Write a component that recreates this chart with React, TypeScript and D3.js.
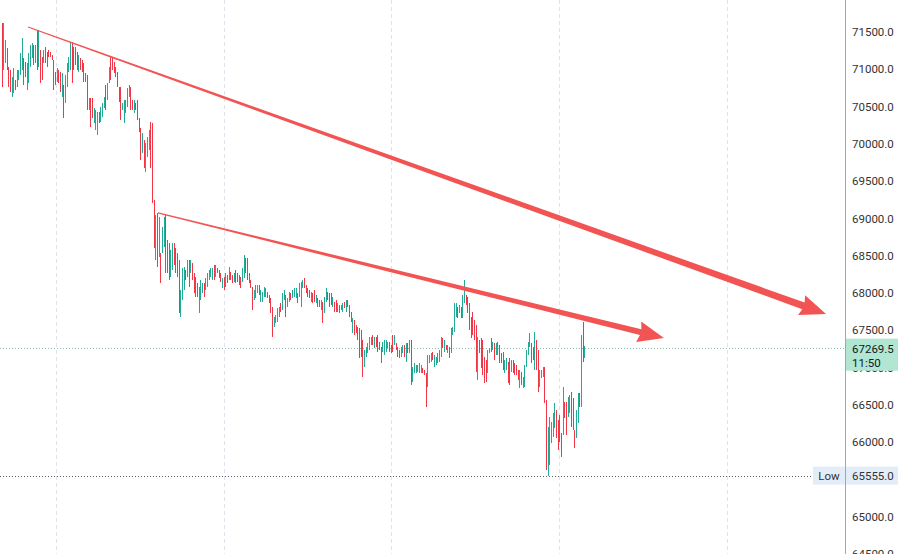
import React from 'react';
import * as d3 from 'd3';

const W = 898;
const H = 554;

// price axis ticks
const priceTicks = [64500, 65000, 65500, 66000, 66500, 67000, 67500, 68000, 68500, 69000, 69500, 70000, 70500, 71000, 71500];
// vertical grid (time) positions, in bar-index units
const timeGrid = [32.5, 133, 233.5, 334, 434.5];

const lastPrice = 67269.5;
const countdown = '11:50';
const lowPrice = 65555;

// 15m candles: [open, high, low, close]
const candles: number[][] = [
  [71620,71620,70765,70765],[70990,71620,70990,71620],[71085,71395,71085,71395],[71285,71285,70990,70990],
  [71030,71030,70765,70765],[70990,70990,70695,70695],[70630,70900,70630,70900],[70685,71020,70685,71020],
  [70855,70855,70725,70725],[70765,70990,70765,70990],[70855,70990,70855,70990],[70925,71220,70925,71220],
  [70990,71420,70990,71420],[71150,71150,70790,70790],[71100,71100,70900,70900],[70725,71085,70725,71085],
  [70815,71220,70815,71220],[71030,71325,71030,71325],[71150,71355,71150,71355],[71325,71325,71060,71060],
  [71085,71325,71085,71325],[71525,71525,70990,70990],[71030,71525,71030,71525],[71260,71260,70815,70815],
  [71165,71165,70855,70855],[71085,71260,71085,71260],[71300,71300,71085,71085],[71230,71230,71030,71030],
  [71260,71260,71165,71165],[71230,71230,71165,71165],[71190,71190,71125,71125],[71125,71125,70725,70725],
  [70965,70965,70790,70790],[70830,71020,70830,71020],[70990,70990,70815,70815],[70965,70965,70695,70695],
  [70630,70950,70630,70950],[70790,70790,70350,70350],[70550,70925,70550,70925],[70765,71085,70765,71085],
  [70965,71165,70965,71165],[70990,71365,70990,71365],[71365,71365,70815,70815],[71300,71300,70990,70990],
  [71300,71300,71060,71060],[71230,71230,70990,70990],[70965,71190,70965,71190],[71150,71150,70990,70990],
  [71125,71125,70965,70965],[71085,71085,70830,70830],[70950,70950,70830,70830],[70925,70925,70455,70455],
  [70455,70615,70455,70615],[70615,70615,70225,70225],[70615,70615,70350,70350],[70280,70480,70280,70480],
  [70190,70455,70190,70455],[70120,70430,70120,70430],[70430,70430,70280,70280],[70295,70495,70295,70495],
  [70360,70550,70360,70550],[70480,70630,70480,70630],[70790,70790,70455,70455],[70590,70815,70590,70815],
  [70815,71030,70815,71030],[71165,71165,70855,70855],[71150,71150,70990,70990],[71100,71100,70950,70950],
  [71030,71030,70900,70900],[70965,70965,70765,70765],[70765,70765,70560,70560],[70765,70765,70320,70320],
  [70455,70550,70455,70550],[70280,70590,70280,70590],[70415,70590,70415,70590],[70495,70750,70495,70750],
  [70630,70790,70630,70790],[70765,70765,70455,70455],[70590,70590,70455,70455],[70415,70590,70415,70590],
  [70550,70550,70455,70455],[70590,70590,70320,70320],[70350,70350,70160,70160],[70215,70215,69785,69785],
  [69880,70145,69880,70145],[70055,70055,69680,69680],[69625,70010,69625,70010],[69825,70095,69825,70095],
  [69920,70190,69920,70190],[70295,70295,69680,69680],[70280,70280,69210,69210],[69250,69250,68605,68605],
  [68445,69050,68445,69050],[69075,69075,68350,68350],[68485,69020,68485,69020],[68540,68540,68135,68135],
  [68540,68890,68540,68890],[68620,69020,68620,69020],[69050,69050,68270,68270],[68715,68715,68270,68270],
  [68675,68675,68175,68175],[68215,68580,68215,68580],[68310,68675,68310,68675],[68675,68675,68380,68380],
  [68605,68605,68270,68270],[68540,68540,68215,68215],[68445,68445,67735,67735],[67680,68045,67680,68045],
  [67910,68340,67910,68340],[68045,68350,68045,68350],[68310,68310,68175,68175],[68215,68445,68215,68445],
  [68445,68445,68085,68085],[68270,68445,68270,68445],[68405,68405,68175,68175],[68270,68270,68000,68000],
  [68215,68215,67950,67950],[68135,68135,67950,67950],[67735,68085,67735,68085],[67910,68175,67910,68175],
  [68000,68135,68000,68135],[68135,68135,67950,67950],[68045,68205,68045,68205],[68085,68270,68085,68270],
  [68175,68310,68175,68310],[68215,68340,68215,68340],[68175,68340,68175,68340],[68380,68380,68175,68175],
  [68215,68380,68215,68380],[68340,68340,68270,68270],[68310,68310,68205,68205],[68270,68270,68150,68150],
  [68070,68205,68070,68205],[68215,68215,68045,68045],[68085,68270,68085,68270],[68245,68245,68135,68135],
  [68175,68350,68175,68350],[68285,68285,68175,68175],[68245,68245,68135,68135],[68150,68270,68150,68270],
  [68310,68310,68135,68135],[68270,68270,68150,68150],[68245,68245,68110,68110],[68215,68215,68070,68070],
  [68150,68340,68150,68340],[68205,68510,68205,68510],[68470,68470,68270,68270],[68470,68470,68175,68175],
  [68270,68270,68135,68135],[68175,68175,68070,68070],[68085,68085,67775,67775],[67910,68045,67910,68045],
  [67935,68110,67935,68110],[68000,68110,68000,68110],[68110,68110,67975,67975],[67880,68045,67880,68045],
  [67880,68015,67880,68015],[67950,68085,67950,68085],[67950,68070,67950,68070],[68015,68015,67935,67935],
  [67975,67975,67870,67870],[67935,67935,67735,67735],[67815,67815,67415,67415],[67545,67680,67545,67680],
  [67600,67710,67600,67710],[67615,67800,67615,67800],[67680,67815,67680,67815],[67870,67870,67750,67750],
  [67775,68000,67775,68000],[67910,68045,67910,68045],[67975,67975,67680,67680],[67815,67935,67815,67935],
  [67880,68015,67880,68015],[68000,68000,67910,67910],[67935,68045,67935,68045],[67950,68070,67950,68070],
  [67935,68070,67935,68070],[68000,68000,67870,67870],[67950,68135,67950,68135],[67815,68150,67815,68150],
  [68070,68175,68070,68175],[68205,68205,68070,68070],[68110,68110,68000,68000],[68070,68070,67950,67950],
  [68045,68045,67935,67935],[67880,68015,67880,68015],[68000,68000,67870,67870],[68045,68045,67880,67880],
  [67870,67975,67870,67975],[67935,67935,67815,67815],[67910,67910,67815,67815],[67775,67910,67775,67910],
  [67880,67880,67600,67600],[67735,67950,67735,67950],[67880,68070,67880,68070],[68015,68015,67910,67910],
  [68000,68000,67815,67815],[68000,68000,67840,67840],[67815,67950,67815,67950],[67880,67880,67750,67750],
  [67910,67910,67750,67750],[67750,67870,67750,67870],[67840,67840,67735,67735],[67775,67840,67775,67840],
  [67750,67870,67750,67870],[67880,67880,67800,67800],[67750,67910,67750,67910],[67910,67910,67815,67815],
  [67840,67840,67680,67680],[67750,67750,67615,67615],[67465,67670,67465,67670],[67640,67640,67440,67440],
  [67575,67575,67465,67465],[67545,67545,67375,67375],[67535,67535,67130,67130],[67505,67505,67145,67145],
  [67375,67375,66875,66875],[67010,67240,67010,67240],[67145,67280,67145,67280],[67200,67330,67200,67330],
  [67240,67415,67240,67415],[67305,67415,67305,67415],[67440,67440,67305,67305],[67265,67415,67265,67415],
  [67415,67415,67280,67280],[67440,67440,67210,67210],[67345,67345,67240,67240],[67280,67280,67065,67065],
  [67210,67345,67210,67345],[67170,67375,67170,67375],[67210,67375,67210,67375],[67265,67345,67265,67345],
  [67345,67345,67210,67210],[67305,67305,67200,67200],[67440,67440,67210,67210],[67305,67440,67305,67440],
  [67330,67330,67240,67240],[67280,67280,67145,67145],[67240,67240,67130,67130],[67145,67280,67145,67280],
  [67200,67305,67200,67305],[67305,67305,67145,67145],[67080,67330,67080,67330],[67330,67330,67200,67200],
  [67200,67375,67200,67375],[67375,67375,66770,66770],[66810,67010,66810,67010],[66930,67065,66930,67065],
  [66930,67040,66930,67040],[66945,67040,66945,67040],[66930,67065,66930,67065],[66930,67040,66930,67040],
  [67000,67000,66930,66930],[66970,66970,66905,66905],[66930,66930,66475,66475],[66745,67170,66745,67170],
  [67065,67170,67065,67170],[67080,67200,67080,67200],[67210,67210,67105,67105],[67010,67170,67010,67170],
  [67040,67145,67040,67145],[67065,67200,67065,67200],[67080,67240,67080,67240],[67145,67415,67145,67415],
  [67400,67400,67265,67265],[67210,67375,67210,67375],[67305,67305,67240,67240],[67200,67305,67200,67305],
  [67280,67280,67130,67130],[67200,67535,67200,67535],[67440,67545,67440,67545],[67480,67870,67480,67870],
  [67680,67870,67680,67870],[67815,67815,67670,67670],[67735,67840,67735,67840],[67815,67815,67670,67670],
  [67670,67975,67670,67975],[67870,68175,67870,68175],[67975,67975,67840,67840],[67950,67950,67735,67735],
  [67870,67870,67510,67510],[67680,67680,67400,67400],[67750,67750,67440,67440],[67640,67640,67375,67375],
  [67575,67575,66945,66945],[66835,67415,66835,67415],[67375,67375,67200,67200],[67400,67400,67000,67000],
  [67375,67375,66905,66905],[67145,67145,66795,66795],[67105,67105,66810,66810],[66930,67240,66930,67240],
  [67200,67265,67200,67265],[67400,67400,67210,67210],[67240,67345,67240,67345],[67330,67330,67105,67105],
  [67170,67330,67170,67330],[67170,67345,67170,67345],[67305,67305,67065,67065],[67200,67200,67065,67065],
  [67210,67210,66970,66970],[66930,67105,66930,67105],[66970,67130,66970,67130],[67080,67080,66795,66795],
  [67130,67130,66770,66770],[66945,67105,66945,67105],[67105,67105,66930,66930],[67065,67065,66905,66905],
  [67040,67040,66905,66905],[66970,66970,66835,66835],[66730,66970,66730,66970],[66945,66945,66770,66770],
  [66730,66875,66730,66875],[66745,67040,66745,67040],[67010,67240,67010,67240],[67170,67345,67170,67345],
  [67280,67465,67280,67465],[67330,67330,67065,67065],[67280,67280,67105,67105],[66970,67480,66970,67480],
  [67375,67375,66970,66970],[67240,67240,66675,66675],[66745,66970,66745,66970],[66865,66970,66865,66970],
  [66875,67010,66875,67010],[67010,67010,66530,66530],[66570,66570,65630,65630],[65600,66205,65555,66190],
  [65700,66340,65700,66340],[65990,66275,65990,66275],[66075,66395,66075,66395],[66195,66530,66195,66530],
  [66435,66435,66060,66060],[66300,66300,65900,65900],[66370,66370,66005,66005],[66125,66125,65805,65805],
  [66100,66745,66100,66745],[66540,66540,66330,66330],[66540,66540,66100,66100],[66340,66610,66340,66610],
  [66395,66635,66395,66635],[66675,66675,66205,66205],[66595,66595,66165,66165],[66165,66165,65925,65925],
  [66060,66435,66060,66435],[66260,66660,66260,66660],[66660,66660,66475,66475],[66480,67440,66470,67420],
  [67420,67610,67080,67150],[67150,67290,67130,67269.5],
];

// trend arrows drawn on chart: [barIndex, price] start -> end
const arrowStarts = [[15.8, 71567], [93.6, 69075]];
const arrowEnds = [[493.8, 67721], [396.7, 67400]];
const arrowEndWidths = [7, 6];

const UP = '#22ab94';
const DOWN = '#f23645';
const ARROW = '#f25454';
const FONT = 'Roboto, "Noto Sans", sans-serif';

function arrowPath(sx: number, sy: number, tx: number, ty: number, w0: number, w1: number) {
  const dx = tx - sx, dy = ty - sy;
  const len = Math.hypot(dx, dy);
  const ux = dx / len, uy = dy / len;
  const nx = -uy, ny = ux;
  const headLen = 26, headHalf = 10.5;
  const bx = tx - ux * headLen, by = ty - uy * headLen;
  const pts = [
    [sx + nx * w0 / 2, sy + ny * w0 / 2],
    [bx + ux * 2 + nx * w1 / 2, by + uy * 2 + ny * w1 / 2],
    [bx + nx * headHalf, by + ny * headHalf],
    [tx, ty],
    [bx - nx * headHalf, by - ny * headHalf],
    [bx + ux * 2 - nx * w1 / 2, by + uy * 2 - ny * w1 / 2],
    [sx - nx * w0 / 2, sy - ny * w0 / 2],
  ];
  return 'M' + pts.map((p) => p[0].toFixed(2) + ',' + p[1].toFixed(2)).join('L') + 'Z';
}

export default function App() {
  const axisX = 845;
  const x = d3.scaleLinear().domain([0, candles.length - 1]).range([1.7, 584.3]);
  const y = d3.scaleLinear().domain([71500, 65000]).range([32, 517]);
  const fmt = d3.format('.1f');

  const yLast = y(lastPrice);
  const yLow = y(lowPrice);
  // tick labels hidden behind the Low badge are not drawn
  const visibleTicks = priceTicks.filter((p) => Math.abs(y(p) - yLow) > 12);

  return (
    <svg width={W} height={H} style={{ position: 'absolute', left: 0, top: 0, display: 'block', background: '#fff' }}>
      <rect x={0} y={0} width={W} height={H} fill="#ffffff" />
      {/* vertical grid */}
      {timeGrid.map((t, i) => (
        <line key={'g' + i} x1={Math.round(x(t)) + 0.5} x2={Math.round(x(t)) + 0.5} y1={0} y2={H}
          stroke="#e0e3eb" strokeWidth={1} strokeDasharray="4,3" />
      ))}
      {/* last price line */}
      <line x1={0} x2={axisX} y1={Math.round(yLast) + 0.5} y2={Math.round(yLast) + 0.5}
        stroke="#8fbfb2" strokeWidth={1} strokeDasharray="1,2" />
      {/* low line */}
      <line x1={0} x2={813} y1={Math.round(yLow) + 0.5} y2={Math.round(yLow) + 0.5}
        stroke="#5d606b" strokeWidth={1} strokeDasharray="1,2" />
      {/* candles */}
      <g shapeRendering="crispEdges">
        {candles.map((c, i) => {
          const [o, h, l, cl] = c;
          const up = cl >= o;
          const cx = Math.round(x(i));
          const top = y(Math.max(o, cl));
          const bot = y(Math.min(o, cl));
          return (
            <g key={i}>
              <rect x={cx} y={y(h)} width={1} height={Math.max(1, y(l) - y(h))} fill={up ? UP : DOWN} />
              <rect x={cx} y={top} width={1} height={Math.max(1, bot - top)} fill={up ? UP : DOWN} />
            </g>
          );
        })}
      </g>
      {/* arrows */}
      {arrowStarts.map((s, i) => (
        <path key={'a' + i}
          d={arrowPath(x(s[0]), y(s[1]), x(arrowEnds[i][0]), y(arrowEnds[i][1]), 1.3, arrowEndWidths[i])}
          fill={ARROW} />
      ))}
      {/* price axis */}
      <rect x={axisX} y={0} width={W - axisX} height={H} fill="#ffffff" />
      <line x1={axisX + 0.5} x2={axisX + 0.5} y1={0} y2={H} stroke="#a3a6af" strokeWidth={1} />
      {visibleTicks.map((p) => (
        <text key={p} x={852} y={y(p) + 4} fontFamily={FONT} fontSize={11.5} fill="#333">
          {fmt(p)}
        </text>
      ))}
      {/* last price label */}
      <rect x={axisX + 1} y={yLast - 9} width={W - axisX - 1} height={32} fill="#b0e6d2" />
      <text x={852} y={yLast + 5} fontFamily={FONT} fontSize={11.5} fill="#131722">{fmt(lastPrice)}</text>
      <text x={852} y={yLast + 19} fontFamily={FONT} fontSize={11.5} fill="#131722">{countdown}</text>
      {/* low label */}
      <rect x={813} y={yLow - 9} width={32} height={18} fill="#e3edf8" />
      <text x={829} y={yLow + 4} textAnchor="middle" fontFamily={FONT} fontSize={11.5} fill="#333">Low</text>
      <rect x={axisX + 1} y={yLow - 9} width={W - axisX - 1} height={18} fill="#e3edf8" />
      <text x={852} y={yLow + 4} fontFamily={FONT} fontSize={11.5} fill="#333">{fmt(lowPrice)}</text>
    </svg>
  );
}
